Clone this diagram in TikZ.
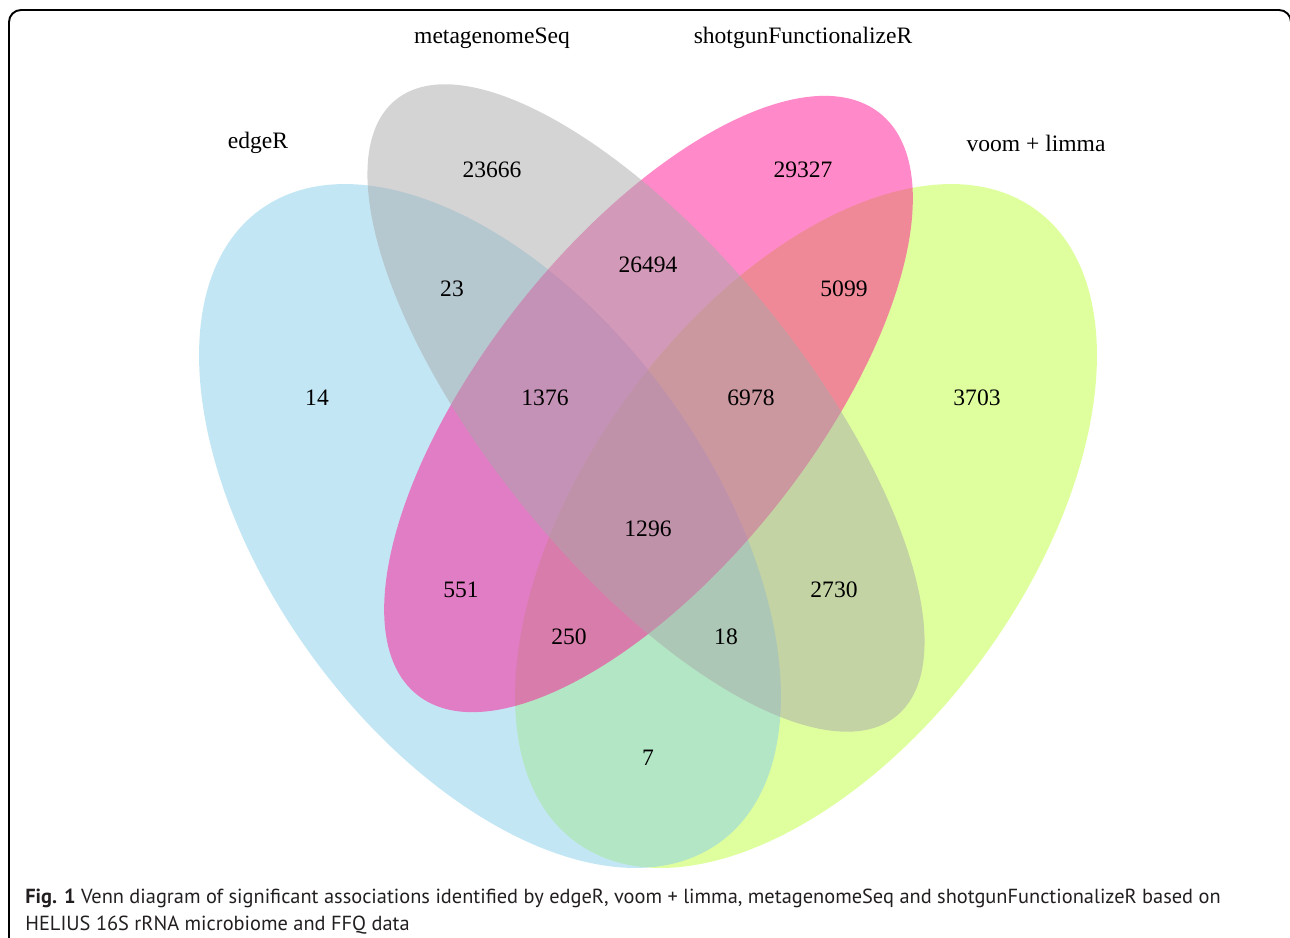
\documentclass[tikz,border=0pt]{standalone}
\usepackage{fontspec}
\setmainfont{Liberation Serif}
\newfontfamily\capfont{PT Sans}
\definecolor{skyb}{HTML}{87CEEB}
\definecolor{dgray}{HTML}{A9A9A9}
\definecolor{dpink}{HTML}{FF1493}
\definecolor{olive1}{HTML}{C0FF3E}
\definecolor{captext}{HTML}{231F20}
\begin{document}
\begin{tikzpicture}[x=0.2mm,y=-0.2mm,setfill/.style={fill opacity=0.5},num/.style={font=\fontsize{13.4}{16}\selectfont,inner sep=0pt},setname/.style={font=\fontsize{13.4}{16}\selectfont,inner sep=0pt},captxt/.style={font=\capfont\fontsize{11.6}{14}\selectfont,text=captext,anchor=base west,inner sep=0pt}]
\useasboundingbox (0,0) rectangle (1290,938);
\draw[line width=1.1pt,rounded corners=2.4mm] (9,10) rectangle (1291,990);
% the four sets, in this order for the overlap colours
\fill[setfill,olive1,rotate around={54:(806,526)}] (806,526) ellipse (391 and 220.5);
\fill[setfill,skyb,rotate around={-54:(490,526)}] (490,526) ellipse (391 and 220.5);
\fill[setfill,dpink,rotate around={51.5:(648.5,404)}] (648.5,404) ellipse (371.6 and 163.4);
\fill[setfill,dgray,rotate around={-50.9:(646,408)}] (646,408) ellipse (397 and 157.2);
\node[setname] (edger) at (258,143) {edgeR};
\node[setname] (meta) at (492,38) {metagenomeSeq};
\node[setname] (shot) at (803,38) {shotgunFunctionalizeR};
\node[setname] (voom) at (1036,143) {voom + limma};
\node[num] (m) at (492,170) {23666};
\node[num] (s) at (803,170) {29327};
\node[num] (ms) at (648,265) {26494};
\node[num] (em) at (452,289) {23};
\node[num] (sv) at (844,289) {5099};
\node[num] (e) at (317,398) {14};
\node[num] (ems) at (545,398) {1376};
\node[num] (msv) at (751,398) {6978};
\node[num] (v) at (977,398) {3703};
\node[num] (emsv) at (648,529) {1296};
\node[num] (es) at (461,590) {551};
\node[num] (mv) at (834,590) {2730};
\node[num] (esv) at (569,637) {250};
\node[num] (emv) at (726,637) {18};
\node[num] (ev) at (648,758) {7};
\node[captxt] (caption) at (25,903) {\textbf{Fig. 1} Venn diagram of significant associations identified by edgeR, voom + limma, metagenomeSeq and shotgunFunctionalizeR based on};
\node[captxt] (caption2) at (25,930) {HELIUS 16S rRNA microbiome and FFQ data};
\end{tikzpicture}
\end{document}
